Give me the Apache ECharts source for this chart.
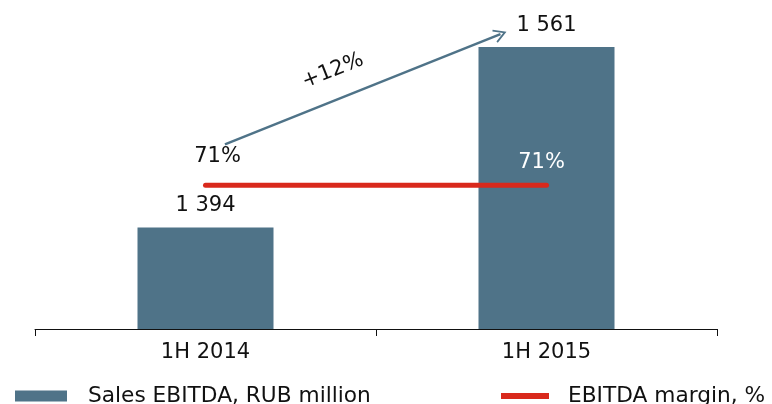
<!DOCTYPE html>
<html>
<head>
<meta charset="utf-8">
<script src="https://cdn.jsdelivr.net/npm/echarts@6/dist/echarts.min.js"></script>
<style>
html,body{margin:0;padding:0;background:#fff;}
#c{width:772px;height:404px;}
</style>
</head>
<body>
<div id="c"></div>
<script>
const categories = ['1H 2014', '1H 2015'];
const salesEbitda = [1394, 1561];
const ebitdaMargin = [71, 71];
const growthLabel = '+12%';
// arrow annotation endpoints in data units: [category position, value]
const arrowStart = [0.057, 1471];
const arrowEnd = [0.865, 1573];

const FONT = 'DejaVu Sans';
const BAR = '#4f7388';
const RED = '#d9291c';
const fmt = v => String(v).replace(/\B(?=(\d{3})+(?!\d))/g, ' ');

const chart = echarts.init(document.getElementById('c'), null, {renderer: 'canvas'});
chart.setOption({
  animation: false,
  textStyle: {fontFamily: FONT},
  grid: {left: 35, right: 55, top: 5, bottom: 75},
  legend: [
    {data: ['Sales EBITDA, RUB million'], left: 15, top: 385, padding: 0,
     icon: 'rect', itemWidth: 52, itemHeight: 11,
     textStyle: {fontFamily: FONT, fontSize: 21.7, color: '#111', padding: [0,0,0,16]}},
    {data: ['EBITDA margin, %'], left: 501, top: 385, padding: 0,
     icon: 'path://M0,0L48,0L48,6L0,6Z', itemWidth: 48, itemHeight: 6,
     textStyle: {fontFamily: FONT, fontSize: 21.7, color: '#111', padding: [0,0,0,14]}}
  ],
  xAxis: [
    {type: 'category', data: categories, boundaryGap: true,
     axisLine: {lineStyle: {color: '#111', width: 1}},
     axisTick: {show: true, length: 7, lineStyle: {color: '#111'}},
     axisLabel: {fontFamily: FONT, fontSize: 21, color: '#111', margin: 13}},
    {type: 'value', min: -0.5, max: 1.5, show: false}
  ],
  yAxis: [
    {type: 'value', min: 1300, max: 1600, show: false, splitLine: {show: false}},
    {type: 'value', min: 0, max: 160, show: false, splitLine: {show: false}}
  ],
  series: [
    {name: 'Sales EBITDA, RUB million', type: 'bar', data: salesEbitda,
     barWidth: 136, itemStyle: {color: BAR},
     label: {show: true, position: 'top', distance: 11, fontFamily: FONT, fontSize: 21,
             color: '#111', formatter: p => fmt(p.value)}},
    {name: 'EBITDA margin, %', type: 'line', yAxisIndex: 1,
     data: ebitdaMargin.map((v, i) => ({
       value: v,
       label: i === 0
         ? {show: true, position: 'top', offset: [12, -13], color: '#111'}
         : {show: true, position: 'top', offset: [-5, -7], color: '#fff'}
     })),
     symbol: 'circle', symbolSize: 0.1, showSymbol: true,
     lineStyle: {color: RED, width: 5, cap: 'round'},
     itemStyle: {color: RED},
     label: {show: true, fontFamily: FONT, fontSize: 21, formatter: p => p.value + '%'}},
    {name: 'growth', type: 'scatter', xAxisIndex: 1, yAxisIndex: 0, data: [],
     markLine: {
       silent: true,
       symbol: ['none', 'path://M0,12L7,0L14,12L12.4,12.8L7,3.6L1.6,12.8Z'],
       symbolSize: [14, 13],
       lineStyle: {color: BAR, width: 2.5, type: 'solid'},
       label: {show: true, position: 'middle', distance: 19, formatter: growthLabel,
               fontFamily: FONT, fontSize: 21, color: '#111', offset: [-28, 0]},
       data: [[{coord: arrowStart}, {coord: arrowEnd}]]
     }}
  ]
});
</script>
</body>
</html>
